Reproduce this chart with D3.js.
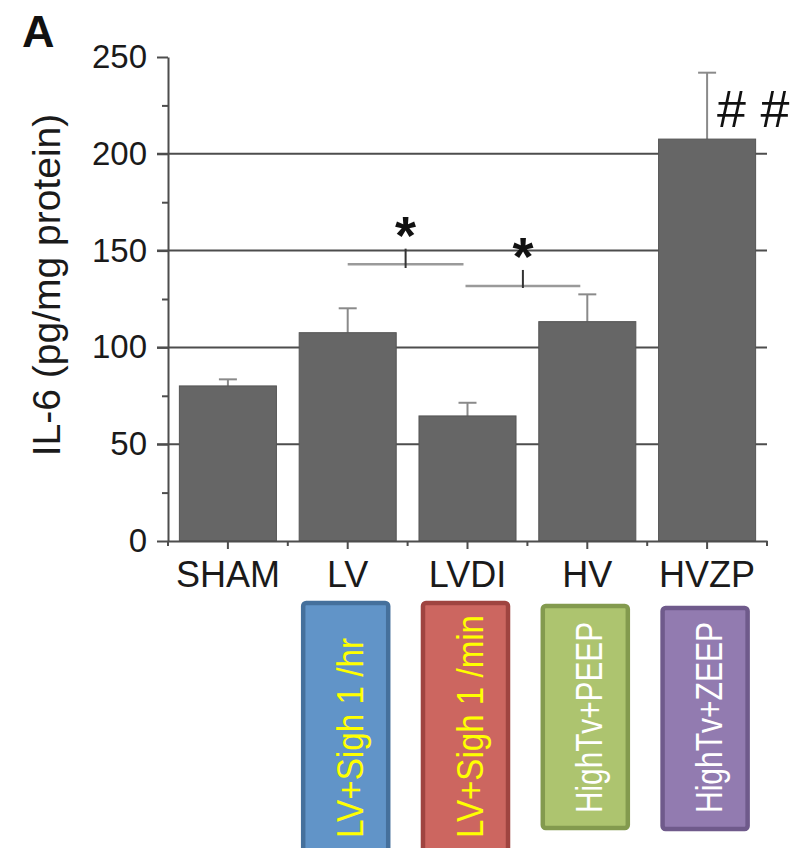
<!DOCTYPE html>
<html>
<head>
<meta charset="utf-8">
<script src="https://cdn.jsdelivr.net/npm/d3@7"></script>
<style>
  html, body { margin: 0; padding: 0; background: #fff; }
  svg { display: block; }
  text { font-family: "Liberation Sans", Arial, sans-serif; }
</style>
</head>
<body>
<svg id="chart" width="800" height="848"></svg>
<script>
// IL-6 levels per ventilation group (mean ± SEM)
const groups = ["SHAM", "LV", "LVDI", "HV", "HVZP"];
const il6Mean = [80.1, 107.6, 64.6, 113.3, 207.6];
const il6ErrTop = [83.5, 120.2, 71.4, 127.4, 241.9];
const yTicks = [0, 50, 100, 150, 200, 250];
const yMinorTicks = [25, 75, 125, 175, 225];
const gridValues = [50, 100, 150, 200];

// Significance brackets: from group, to group, line level, marker tick top/bottom
const brackets = [
  { from: "LV", to: "LVDI", level: 143, tickTop: 151, tickBottom: 141, label: "*", shiftFrom: 0, shiftTo: -4 },
  { from: "LVDI", to: "HV", level: 131.7, tickTop: 140, tickBottom: 130.7, label: "*", shiftFrom: -2, shiftTo: -7 }
];
const hashLabel = "# #";

// Protocol key boxes below the axis
const protocolGroups = ["LV", "LVDI", "HV", "HVZP"];
const protocolLabels = ["LV+Sigh 1 /hr", "LV+Sigh 1 /min", "HighTv+PEEP", "HighTv+ZEEP"];
const protocolFill = ["#6194c8", "#cc6660", "#adc46f", "#927bb0"];
const protocolStroke = ["#45709c", "#9f4440", "#839a4e", "#6f5a8b"];
const protocolText = ["#ffff00", "#ffff00", "#ffffff", "#ffffff"];

const svg = d3.select("#chart");

const x = d3.scaleBand().domain(groups).range([168, 767])
  .paddingInner(0.19).paddingOuter(0.095);
const y = d3.scaleLinear().domain([0, 250]).range([541, 57]);

// Grid lines (drawn behind bars)
svg.append("g").selectAll("line").data(gridValues).join("line")
  .attr("x1", 157).attr("x2", 767)
  .attr("y1", d => y(d)).attr("y2", d => y(d))
  .attr("stroke", "#4d4d4d").attr("stroke-width", 2);

// Error bars
const capW = 18;
const err = svg.append("g").attr("stroke", "#8a8a8a").attr("stroke-width", 2);
groups.forEach((g, i) => {
  const cx = x(g) + x.bandwidth() / 2;
  err.append("line").attr("x1", cx).attr("x2", cx)
    .attr("y1", y(il6Mean[i])).attr("y2", y(il6ErrTop[i]));
  err.append("line").attr("x1", cx - capW / 2).attr("x2", cx + capW / 2)
    .attr("y1", y(il6ErrTop[i])).attr("y2", y(il6ErrTop[i]));
});

// Bars
svg.append("g").selectAll("rect").data(groups).join("rect")
  .attr("x", d => x(d))
  .attr("width", x.bandwidth())
  .attr("y", (d, i) => y(il6Mean[i]))
  .attr("height", (d, i) => y(0) - y(il6Mean[i]))
  .attr("fill", "#666666")
  .attr("stroke", "#555555").attr("stroke-width", 1);

// Y axis: major ticks with labels, minor ticks without
const yAxis = svg.append("g").attr("transform", "translate(168,0)")
  .call(d3.axisLeft(y).tickValues(yTicks).tickSize(11).tickSizeOuter(0).tickPadding(10));
yAxis.selectAll("text").attr("font-size", 33).attr("fill", "#1a1a1a")
  .attr("font-family", "Liberation Sans, Arial, sans-serif");
const yMinor = svg.append("g").attr("transform", "translate(168,0)")
  .call(d3.axisLeft(y).tickValues(yMinorTicks).tickSize(6).tickFormat(""));
yMinor.select(".domain").remove();
[yAxis, yMinor].forEach(a => {
  a.selectAll("line").attr("stroke", "#4d4d4d").attr("stroke-width", 2);
  a.selectAll(".domain").attr("stroke", "#4d4d4d").attr("stroke-width", 2);
});

// X axis with labels at group centres
const xAxis = svg.append("g").attr("transform", "translate(0,541)")
  .call(d3.axisBottom(x).tickSize(8).tickSizeOuter(0).tickPadding(12));
xAxis.selectAll("text").attr("font-size", 36).attr("fill", "#1a1a1a")
  .attr("font-family", "Liberation Sans, Arial, sans-serif");
xAxis.selectAll("line, .domain").attr("stroke", "#4d4d4d").attr("stroke-width", 2);
// Short ticks on the group boundaries
const edges = d3.range(groups.length + 1).map(i => x.range()[0] + i * x.step());
svg.append("g").selectAll("line").data(edges).join("line")
  .attr("x1", d => d).attr("x2", d => d)
  .attr("y1", 541).attr("y2", 546)
  .attr("stroke", "#4d4d4d").attr("stroke-width", 2);

// Significance brackets
const bg = svg.append("g");
brackets.forEach(b => {
  const x1 = x(b.from) + x.bandwidth() / 2 + b.shiftFrom;
  const x2 = x(b.to) + x.bandwidth() / 2 + b.shiftTo;
  const mid = (x1 + x2) / 2;
  bg.append("line").attr("x1", x1).attr("x2", x2)
    .attr("y1", y(b.level)).attr("y2", y(b.level))
    .attr("stroke", "#9a9a9a").attr("stroke-width", 2.5);
  bg.append("line").attr("x1", mid).attr("x2", mid)
    .attr("y1", y(b.tickTop)).attr("y2", y(b.tickBottom))
    .attr("stroke", "#333").attr("stroke-width", 2);
  bg.append("text").attr("x", mid).attr("y", y(b.tickTop) + 5)
    .attr("text-anchor", "middle")
    .attr("font-family", "DejaVu Sans, sans-serif").attr("font-weight", "bold")
    .attr("font-size", 54).attr("fill", "#111")
    .text(b.label);
});

// Marker above the HVZP error bar
svg.append("text")
  .attr("x", x("HVZP") + x.bandwidth() / 2 + 10)
  .attr("y", 127)
  .attr("font-size", 52).attr("fill", "#111")
  .text(hashLabel);

// Y axis title
svg.append("text")
  .attr("transform", "translate(60,285) rotate(-90)")
  .attr("text-anchor", "middle")
  .attr("font-size", 39).attr("fill", "#1a1a1a")
  .text("IL-6 (pg/mg protein)");

// Panel letter
svg.append("text").attr("x", 22).attr("y", 47)
  .attr("font-size", 45).attr("font-weight", "bold").attr("fill", "#111")
  .text("A");

// Protocol key boxes
const boxTop = [603, 603, 606, 608];
const boxBottom = [870, 870, 828, 829];
const textStart = [838, 838, 813, 813];
const textLen = [200, 223, 191, 191];
const keys = svg.append("g");
protocolGroups.forEach((g, i) => {
  const left = x(g) + 4;
  const w = x.bandwidth() - 12;
  keys.append("rect")
    .attr("x", left).attr("y", boxTop[i])
    .attr("width", w).attr("height", boxBottom[i] - boxTop[i])
    .attr("rx", 3)
    .attr("fill", protocolFill[i])
    .attr("stroke", protocolStroke[i]).attr("stroke-width", 4.5);
  const cx = left + w / 2 + 4;
  keys.append("text")
    .attr("transform", `translate(${cx + 13},${textStart[i]}) rotate(-90)`)
    .attr("font-family", "Lato, sans-serif")
    .attr("font-size", 36)
    .attr("textLength", textLen[i])
    .attr("lengthAdjust", "spacingAndGlyphs")
    .attr("fill", protocolText[i])
    .text(protocolLabels[i]);
});
</script>
</body>
</html>
